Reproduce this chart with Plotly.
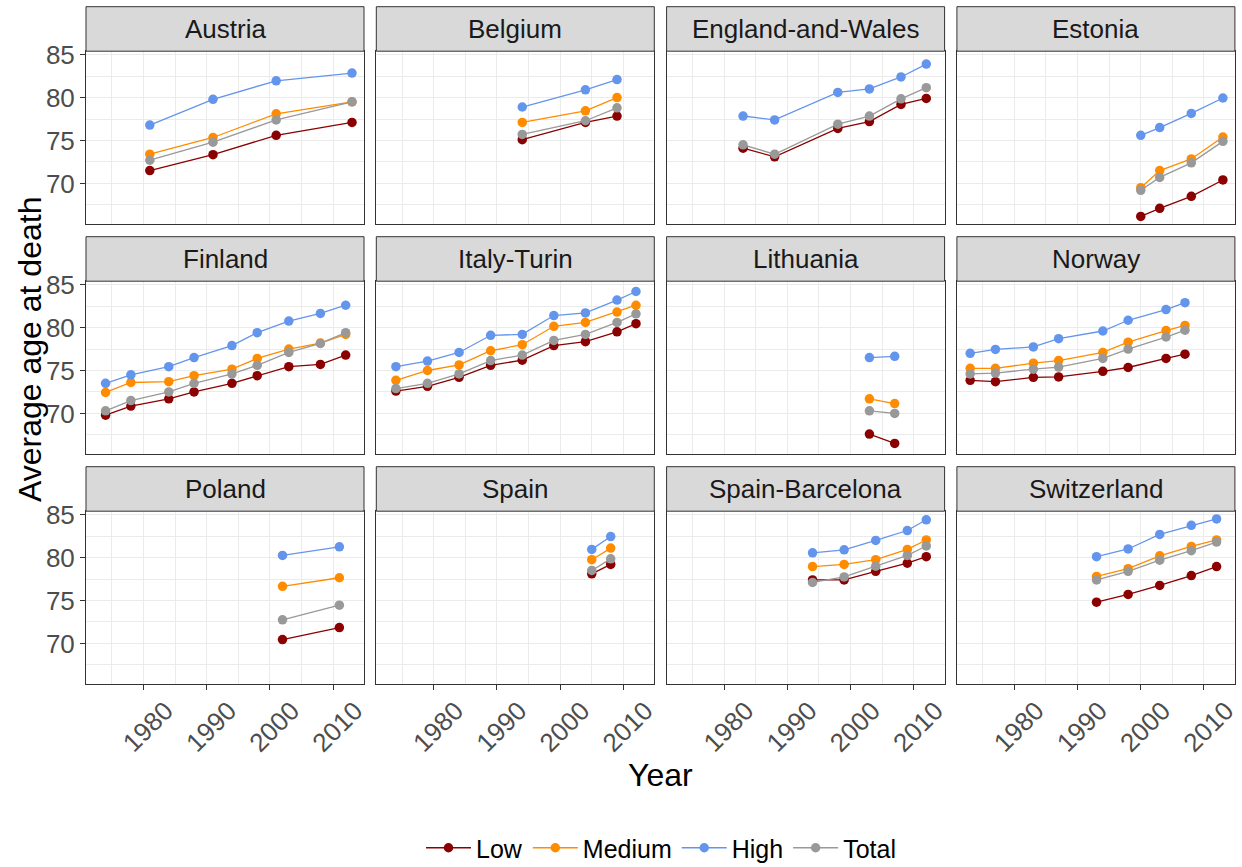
import plotly.graph_objects as go

W, H = 1242, 867

# ---------------- data ----------------
countries = ["Austria", "Belgium", "England-and-Wales", "Estonia",
             "Finland", "Italy-Turin", "Lithuania", "Norway",
             "Poland", "Spain", "Spain-Barcelona", "Switzerland"]
series_names = ["Low", "Medium", "High", "Total"]
series_colors = ["#8B0000", "#FF8C00", "#6495ED", "#999999"]

austria_year = [1981, 1991, 2001, 2013]
austria_low = [71.5, 73.35, 75.6, 77.1]
austria_medium = [73.4, 75.35, 78.1, 79.5]
austria_high = [76.8, 79.8, 81.95, 82.85]
austria_total = [72.7, 74.8, 77.4, 79.5]

belgium_year = [1994, 2004, 2009]
belgium_low = [75.1, 77.1, 77.85]
belgium_medium = [77.1, 78.45, 80.0]
belgium_high = [78.9, 80.9, 82.1]
belgium_total = [75.7, 77.3, 78.8]

england_year = [1983, 1988, 1998, 2003, 2008, 2012]
england_low = [74.1, 73.1, 76.4, 77.2, 79.2, 79.9]
england_medium = []
england_high = [77.85, 77.4, 80.6, 81.0, 82.4, 83.9]
england_total = [74.5, 73.4, 76.9, 77.85, 79.85, 81.15]

estonia_year = [2000, 2003, 2008, 2013]
estonia_low = [66.15, 67.1, 68.5, 70.4]
estonia_medium = [69.5, 71.5, 72.85, 75.4]
estonia_high = [75.6, 76.5, 78.15, 79.95]
estonia_total = [69.2, 70.7, 72.4, 74.9]

finland_year = [1974, 1978, 1984, 1988, 1994, 1998, 2003, 2008, 2012]
finland_low = [69.8, 70.85, 71.7, 72.5, 73.5, 74.4, 75.45, 75.7, 76.8]
finland_medium = [72.45, 73.6, 73.7, 74.4, 75.15, 76.4, 77.5, 78.2, 79.2]
finland_high = [73.5, 74.5, 75.45, 76.5, 77.9, 79.4, 80.75, 81.65, 82.6]
finland_total = [70.3, 71.5, 72.5, 73.5, 74.6, 75.6, 77.1, 78.15, 79.4]

italy_year = [1974, 1979, 1984, 1989, 1994, 1999, 2004, 2009, 2012]
italy_low = [72.6, 73.15, 74.2, 75.6, 76.2, 77.9, 78.35, 79.5, 80.45]
italy_medium = [73.85, 75.0, 75.65, 77.3, 78.0, 80.15, 80.6, 81.8, 82.6]
italy_high = [75.45, 76.1, 77.1, 79.1, 79.2, 81.4, 81.7, 83.2, 84.2]
italy_total = [72.9, 73.5, 74.6, 76.15, 76.8, 78.5, 79.2, 80.6, 81.6]

lithuania_year = [2003, 2007]
lithuania_low = [67.6, 66.5]
lithuania_medium = [71.7, 71.15]
lithuania_high = [76.5, 76.65]
lithuania_total = [70.3, 70.0]

norway_year = [1973, 1977, 1983, 1987, 1994, 1998, 2004, 2007]
norway_low = [73.85, 73.7, 74.2, 74.25, 74.9, 75.35, 76.4, 76.9]
norway_medium = [75.25, 75.25, 75.85, 76.15, 77.1, 78.3, 79.65, 80.25]
norway_high = [77.0, 77.45, 77.75, 78.7, 79.6, 80.85, 82.1, 82.9]
norway_total = [74.6, 74.7, 75.15, 75.4, 76.4, 77.5, 78.9, 79.7]

poland_year = [2002, 2011]
poland_low = [70.45, 71.85]
poland_medium = [76.65, 77.65]
poland_high = [80.25, 81.25]
poland_total = [72.75, 74.45]

spain_year = [2005, 2008]
spain_low = [78.1, 79.2]
spain_medium = [79.75, 81.1]
spain_high = [80.95, 82.45]
spain_total = [78.5, 79.85]

barcelona_year = [1994, 1999, 2004, 2009, 2012]
barcelona_low = [77.4, 77.4, 78.4, 79.35, 80.1]
barcelona_medium = [78.95, 79.2, 79.75, 80.95, 82.05]
barcelona_high = [80.55, 80.9, 82.0, 83.15, 84.4]
barcelona_total = [77.1, 77.75, 79.0, 80.25, 81.35]

switzerland_year = [1993, 1998, 2003, 2008, 2012]
switzerland_low = [74.8, 75.7, 76.75, 77.9, 78.95]
switzerland_medium = [77.8, 78.7, 80.2, 81.3, 82.05]
switzerland_high = [80.1, 81.0, 82.7, 83.75, 84.5]
switzerland_total = [77.4, 78.4, 79.7, 80.8, 81.8]

x_tick_vals = [1980, 1990, 2000, 2010]
x_tick_text = ["1980", "1990", "2000", "2010"]
y_tick_vals = [70, 75, 80, 85]
y_tick_text = ["70", "75", "80", "85"]

panel_data = [
    (austria_year, [austria_low, austria_medium, austria_high, austria_total]),
    (belgium_year, [belgium_low, belgium_medium, belgium_high, belgium_total]),
    (england_year, [england_low, england_medium, england_high, england_total]),
    (estonia_year, [estonia_low, estonia_medium, estonia_high, estonia_total]),
    (finland_year, [finland_low, finland_medium, finland_high, finland_total]),
    (italy_year, [italy_low, italy_medium, italy_high, italy_total]),
    (lithuania_year, [lithuania_low, lithuania_medium, lithuania_high, lithuania_total]),
    (norway_year, [norway_low, norway_medium, norway_high, norway_total]),
    (poland_year, [poland_low, poland_medium, poland_high, poland_total]),
    (spain_year, [spain_low, spain_medium, spain_high, spain_total]),
    (barcelona_year, [barcelona_low, barcelona_medium, barcelona_high, barcelona_total]),
    (switzerland_year, [switzerland_low, switzerland_medium, switzerland_high, switzerland_total]),
]

# ---------------- layout geometry (pixels) ----------------
col_left = [86, 376.3, 666.6, 956.9]
panel_w = 278
strip_top = [6.7, 236.7, 466.7]
strip_h = 44.5
panel_h = 173

FONT = "Liberation Sans, Arial, sans-serif"
SMALL = 26
BIG = 32
X_RANGE = [1970.9, 2014.9]
Y_RANGE = [65.25, 85.4]

fig = go.Figure()
layout = dict(
    width=W, height=H,
    margin=dict(l=0, r=0, t=0, b=0, autoexpand=False),
    paper_bgcolor="white", plot_bgcolor="white",
    font=dict(family=FONT, size=SMALL, color="#4D4D4D"),
    showlegend=True,
    legend=dict(orientation="h", x=0.5322, xanchor="center",
                y=1 - 848 / H, yanchor="middle",
                font=dict(family=FONT, size=25, color="#000000"),
                itemwidth=45, bgcolor="rgba(0,0,0,0)"),
)
shapes = []
annotations = []

for i, name in enumerate(countries):
    r, c = divmod(i, 4)
    n = "" if i == 0 else str(i + 1)
    x0 = col_left[c]
    x1 = x0 + panel_w
    st = strip_top[r]
    pt = st + strip_h
    pb = pt + panel_h
    bottom_row = r == 2
    first_col = c == 0
    layout["xaxis" + n] = dict(
        domain=[x0 / W, x1 / W], anchor="y" + n, range=X_RANGE,
        tickmode="array", tickvals=x_tick_vals, ticktext=x_tick_text,
        showticklabels=bottom_row, ticks="outside" if bottom_row else "",
        ticklen=5, tickwidth=1, tickcolor="#333333", tickangle=-45,
        ticklabelshift=22, ticklabelstandoff=-5,
        tickfont=dict(family=FONT, size=SMALL, color="#4D4D4D"),
        showgrid=True, gridcolor="#EBEBEB", gridwidth=1.1,
        minor=dict(tickmode="array", tickvals=[1975, 1985, 1995, 2005],
                   showgrid=True, gridcolor="#EBEBEB", gridwidth=0.6, ticks=""),
        showline=True, mirror=True, linecolor="#333333", linewidth=1,
        zeroline=False, fixedrange=True,
    )
    layout["yaxis" + n] = dict(
        domain=[1 - pb / H, 1 - pt / H], anchor="x" + n, range=Y_RANGE,
        tickmode="array", tickvals=y_tick_vals, ticktext=y_tick_text,
        showticklabels=first_col, ticks="outside" if first_col else "",
        ticklen=5, tickwidth=1, tickcolor="#333333",
        tickfont=dict(family=FONT, size=SMALL, color="#4D4D4D"),
        showgrid=True, gridcolor="#EBEBEB", gridwidth=1.1,
        minor=dict(tickmode="array", tickvals=[67.5, 72.5, 77.5, 82.5],
                   showgrid=True, gridcolor="#EBEBEB", gridwidth=0.6, ticks=""),
        showline=True, mirror=True, linecolor="#333333", linewidth=1,
        zeroline=False, fixedrange=True,
    )
    # strip
    shapes.append(dict(type="rect", xref="paper", yref="paper",
                       x0=x0 / W, x1=x1 / W, y0=1 - pt / H, y1=1 - st / H,
                       fillcolor="#D9D9D9", line=dict(color="#333333", width=1),
                       layer="above"))
    annotations.append(dict(text=name, xref="paper", yref="paper",
                            x=(x0 + x1) / 2 / W, y=1 - (st + strip_h / 2) / H,
                            xanchor="center", yanchor="middle", showarrow=False,
                            font=dict(family=FONT, size=SMALL, color="#1A1A1A")))

    years, series = panel_data[i]
    # lines first (below all points), then points
    for s, vals in enumerate(series):
        if not vals:
            continue
        fig.add_trace(go.Scatter(x=years, y=vals, mode="lines",
                                 line=dict(color=series_colors[s], width=1.3),
                                 xaxis="x" + n, yaxis="y" + n,
                                 showlegend=False, hoverinfo="skip"))
    for s, vals in enumerate(series):
        if not vals:
            continue
        fig.add_trace(go.Scatter(x=years, y=vals, mode="markers",
                                 marker=dict(color=series_colors[s], size=9.5),
                                 xaxis="x" + n, yaxis="y" + n,
                                 showlegend=False, name=series_names[s]))

# legend entries (points placed outside the visible range)
for s, nm in enumerate(series_names):
    fig.add_trace(go.Scatter(x=[1900, 1901], y=[0, 0], mode="lines+markers",
                             name=nm,
                             line=dict(color=series_colors[s], width=1.3),
                             marker=dict(color=series_colors[s], size=9.5),
                             xaxis="x", yaxis="y", showlegend=True,
                             hoverinfo="skip"))

annotations.append(dict(text="Year", xref="paper", yref="paper",
                        x=(col_left[0] + col_left[3] + panel_w) / 2 / W,
                        y=1 - 775 / H, xanchor="center", yanchor="middle",
                        showarrow=False,
                        font=dict(family=FONT, size=BIG, color="#000000")))
annotations.append(dict(text="Average age at death", xref="paper", yref="paper",
                        x=30 / W, y=1 - 350 / H, xanchor="center", yanchor="middle",
                        textangle=-90, showarrow=False,
                        font=dict(family=FONT, size=BIG, color="#000000")))

layout["shapes"] = shapes
layout["annotations"] = annotations
fig.update_layout(**layout)
fig.write_html("out.html")
